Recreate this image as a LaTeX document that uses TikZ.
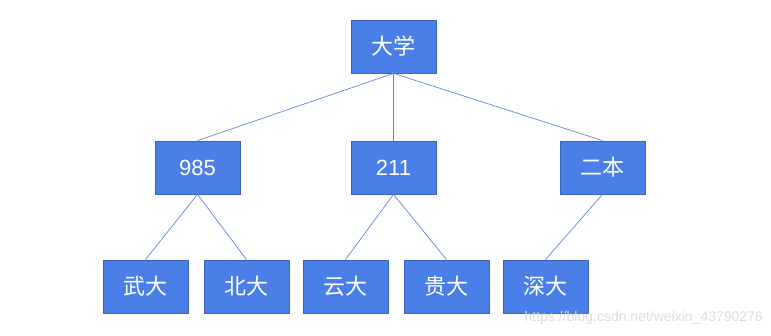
\documentclass[tikz,border=0pt]{standalone}
\usepackage{fontspec}
\setmainfont{Liberation Sans}
\newfontfamily\cjk{Noto Sans CJK SC}
\definecolor{boxfill}{HTML}{4A7FE8}
\definecolor{boxline}{HTML}{3A64BE}
\definecolor{linkc}{HTML}{5A86E0}
\definecolor{wm}{HTML}{DCDCDC}
\begin{document}
\begin{tikzpicture}[x=1pt,y=-1pt,
  nodebox/.style={draw=boxline,fill=boxfill,line width=0.8pt,minimum width=85pt,minimum height=53pt,inner sep=0pt,text=white,font=\fontsize{22}{26}\selectfont},
  link/.style={draw=linkc,line width=0.7pt}]
\useasboundingbox (0,0) rectangle (771,336);
\node[nodebox] (top) at (393.5,46.5) {\cjk 大学};
\node[nodebox] (a) at (197.5,167.5) {985};
\node[nodebox] (b) at (393.5,167.5) {211};
\node[nodebox] (c) at (602.5,167.5) {\cjk 二本};
\node[nodebox] (a1) at (145.5,286.5) {\cjk 武大};
\node[nodebox] (a2) at (246.5,286.5) {\cjk 北大};
\node[nodebox] (b1) at (345.5,286.5) {\cjk 云大};
\node[nodebox] (b2) at (446.5,286.5) {\cjk 贵大};
\node[nodebox] (c1) at (545.5,286.5) {\cjk 深大};
\draw[link] (top.south) -- (a.north);
\draw[link] (top.south) -- (b.north);
\draw[link] (top.south) -- (c.north);
\draw[link] (a.south) -- (a1.north);
\draw[link] (a.south) -- (a2.north);
\draw[link] (b.south) -- (b1.north);
\draw[link] (b.south) -- (b2.north);
\draw[link] (c.south) -- (c1.north);
\node[anchor=east,text=wm,inner sep=0pt,font=\fontsize{14}{16}\selectfont] (wmk) at (763,318) {https://blog.csdn.net/weixin\_43790276};
\end{tikzpicture}
\end{document}
